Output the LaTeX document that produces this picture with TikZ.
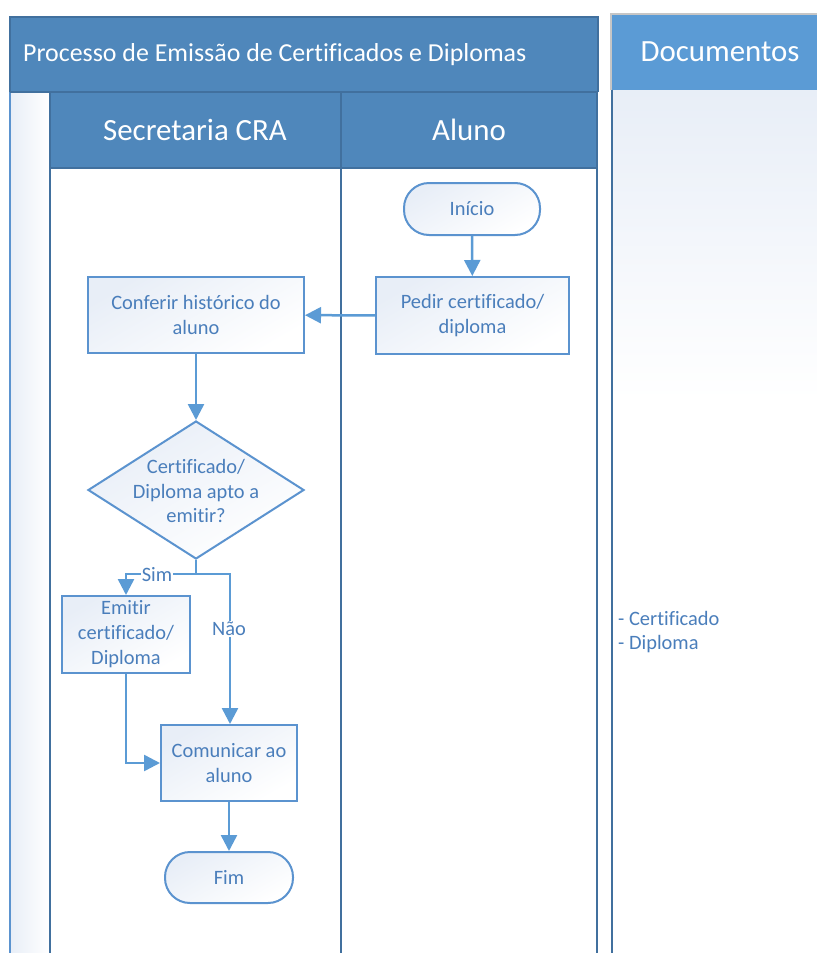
\documentclass[tikz,border=0pt]{standalone}
\usepackage{fontspec}
\setmainfont{Carlito}[Ligatures={NoCommon}]
\usetikzlibrary{shapes.geometric,arrows.meta}
\definecolor{hdr}{HTML}{4F87BB}
\definecolor{hdrdoc}{HTML}{5B9BD5}
\definecolor{lanebd}{HTML}{41709E}
\definecolor{nodebd}{HTML}{5B93CF}
\definecolor{txt}{HTML}{4A7EBB}
\definecolor{arr}{HTML}{5B9BD5}
\definecolor{pale}{HTML}{E8EEF7}
\tikzset{
  procbox/.style={draw=nodebd, line width=2bp, top color=pale, bottom color=white, shading angle=30,
    text=txt, align=center, font=\fontsize{20.5}{25}\selectfont, inner sep=0pt},
  termbox/.style={procbox, rounded corners=25bp},
  decbox/.style={draw=nodebd, line width=2bp, top color=pale, bottom color=white, shading angle=30,
    diamond, inner sep=0pt, minimum width=216bp, minimum height=138bp},
  flow/.style={draw=arr, line width=2.5bp, -{Triangle[length=16bp,width=16bp]}},
  flowlabel/.style={fill=white, text=txt, font=\fontsize{20.5}{25}\selectfont, inner sep=1bp},
  hdrtext/.style={text=white, font=\fontsize{31}{36}\selectfont},
}
\begin{document}
\begin{tikzpicture}[x=1bp,y=-1bp]
\useasboundingbox (0,0) rectangle (817,953);
\fill[white] (0,0) rectangle (817,953);
% ---- Documentos pool
\fill[top color=pale, bottom color=white] (611,90) rectangle (830,400);
\fill[hdrdoc] (611,14) rectangle (830,90);
\draw[line width=1.5bp, gray!45] (611,90) -- (611,14) -- (830,14);
\draw[line width=2bp, lanebd] (612,90) -- (612,960);
\node[hdrtext] (doc) at (720,52) {Documentos};
\node[text=txt, align=left, anchor=west, font=\fontsize{20.5}{24}\selectfont, inner sep=0pt] (doclist) at (618,632) {- Certificado\\- Diploma};
% ---- main pool
\fill[left color=pale, right color=white] (10,92) rectangle (50,960);
\draw[line width=1.5bp, nodebd] (10,92) -- (10,960);
\fill[hdr] (10,17) rectangle (598,92);
\draw[line width=1.5bp, lanebd] (10,92) -- (10,17) -- (598,17) -- (598,92);
\node[hdrtext, anchor=west, font=\fontsize{26}{30}\selectfont, inner sep=0pt] (title) at (23,55) {Processo de Emissão de Certificados e Diplomas};
% lanes
\fill[white] (50,168) rectangle (597,960);
\fill[hdr] (50,92) rectangle (597,168);
\draw[line width=1.5bp, lanebd] (10,92) -- (598,92);
\draw[line width=2bp, lanebd] (50,92) -- (50,960);
\draw[line width=2bp, lanebd] (341,92) -- (341,960);
\draw[line width=2bp, lanebd] (597,92) -- (597,960);
\draw[line width=2bp, lanebd] (50,168) -- (597,168);
\node[hdrtext] (lane1) at (195,130) {Secretaria CRA};
\node[hdrtext] (lane2) at (469,130) {Aluno};
% ---- nodes
\node[termbox, minimum width=136bp, minimum height=52bp] (inicio) at (472,209) {Início};
\node[procbox, minimum width=193bp, minimum height=77bp] (pedir) at (472.5,315.5) {Pedir certificado/\\diploma};
\node[procbox, minimum width=216bp, minimum height=76bp] (conferir) at (196,315) {Conferir histórico do\\aluno};
\node[decbox] (apto) at (196,490) {};
\node[text=txt, align=center, font=\fontsize{20.5}{25}\selectfont] (aptotxt) at (196,491) {Certificado/\\Diploma apto a\\emitir?};
\node[procbox, minimum width=128bp, minimum height=77bp] (emitir) at (126,634.5) {Emitir\\certificado/\\Diploma};
\node[procbox, minimum width=136bp, minimum height=76bp] (comunicar) at (229,763) {Comunicar ao\\aluno};
\node[termbox, minimum width=128bp, minimum height=51bp] (fim) at (229,877.5) {Fim};
\coordinate (split) at (196,574);
% ---- connectors
\draw[flow] (inicio) -- (pedir);
\draw[flow] (pedir) -- (conferir);
\draw[flow] (conferir) -- (apto);
\draw[flow] (apto.south) -- (split) -| (emitir.north);
\draw[flow] (split) -| ([xshift=1bp]comunicar.north);
\draw[flow] (emitir.south) |- (comunicar.west);
\draw[flow] (comunicar) -- (fim);
\node[flowlabel] (sim) at (157,575) {Sim};
\node[flowlabel] (nao) at (229,629) {Não};
\end{tikzpicture}
\end{document}
